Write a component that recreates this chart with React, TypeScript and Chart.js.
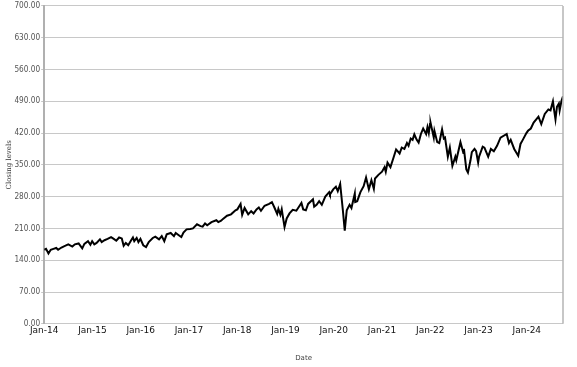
import React, { useEffect, useRef } from "react";
import { Chart, registerables } from "chart.js";

Chart.register(...registerables);

const dates: string[] = [
  "2014-01-02","2014-01-15","2014-02-03","2014-02-20","2014-03-10","2014-04-01","2014-04-15","2014-05-10","2014-06-10","2014-07-01","2014-07-31","2014-08-20","2014-09-18","2014-10-15","2014-11-01","2014-11-28","2014-12-16","2014-12-29",
  "2015-01-15","2015-02-02","2015-02-27","2015-03-10","2015-03-31","2015-04-24","2015-05-20","2015-06-10","2015-06-29","2015-07-20","2015-08-10","2015-08-24","2015-09-10","2015-09-28","2015-10-20","2015-11-03","2015-11-13","2015-12-01","2015-12-14","2015-12-29",
  "2016-01-20","2016-02-11","2016-03-01","2016-03-31","2016-04-20","2016-05-18","2016-06-08","2016-06-27","2016-07-15","2016-08-15","2016-09-09","2016-09-22","2016-10-15","2016-11-04","2016-11-20","2016-12-13",
  "2017-01-10","2017-02-01","2017-03-01","2017-03-27","2017-04-13","2017-05-01","2017-05-17","2017-06-19","2017-07-25","2017-08-10","2017-09-01","2017-09-15","2017-10-15","2017-11-15","2017-12-18",
  "2018-01-02","2018-01-26","2018-02-08","2018-02-26","2018-03-23","2018-04-15","2018-05-03","2018-05-25","2018-06-12","2018-06-28","2018-07-25","2018-08-29","2018-09-20","2018-10-10","2018-10-29","2018-11-08","2018-11-23","2018-12-03","2018-12-24",
  "2019-01-10","2019-02-01","2019-02-25","2019-03-22","2019-04-30","2019-05-13","2019-06-03","2019-06-20","2019-07-26","2019-08-05","2019-08-23","2019-09-12","2019-10-02","2019-10-28","2019-11-27","2019-12-03","2019-12-27",
  "2020-01-17","2020-01-31","2020-02-19","2020-03-09","2020-03-23","2020-04-08","2020-04-29","2020-05-13","2020-06-08","2020-06-11","2020-06-26","2020-07-20","2020-08-14","2020-09-02","2020-09-23","2020-10-12","2020-10-30","2020-11-09","2020-12-04","2020-12-31",
  "2021-01-20","2021-01-29","2021-02-12","2021-03-04","2021-03-26","2021-04-16","2021-05-12","2021-05-28","2021-06-18","2021-07-07","2021-07-19","2021-08-05","2021-08-19","2021-09-02","2021-09-20","2021-10-04","2021-10-21","2021-11-08","2021-11-30","2021-12-10","2021-12-20","2021-12-29",
  "2022-01-03","2022-01-27","2022-02-02","2022-02-23","2022-03-08","2022-03-29","2022-04-12","2022-04-21","2022-05-12","2022-05-27","2022-06-16","2022-07-08","2022-07-15","2022-08-16","2022-09-08","2022-09-12","2022-09-30","2022-10-12","2022-11-01","2022-11-11","2022-12-01","2022-12-13","2022-12-28",
  "2023-01-05","2023-02-02","2023-02-15","2023-03-13","2023-04-03","2023-04-25","2023-05-19","2023-06-15","2023-07-31","2023-08-18","2023-09-01","2023-09-27","2023-10-27","2023-11-14","2023-12-01","2023-12-28",
  "2024-01-10","2024-01-31","2024-02-22","2024-03-28","2024-04-19","2024-05-15","2024-06-12","2024-06-28","2024-07-16","2024-07-25","2024-08-05","2024-08-16","2024-08-30","2024-09-06","2024-09-19","2024-10-01"
];

const closes: number[] = [
  163,165,155,163,165,167,163,168,172,175,170,175,177,166,176,182,174,182,
  175,178,186,180,184,187,191,187,183,190,188,172,178,173,184,190,182,189,180,187,
  173,169,180,189,192,186,193,182,197,200,193,200,195,191,201,208,
  209,210,219,215,214,221,217,224,228,224,227,231,238,241,250,
  252,264,240,255,241,248,243,252,256,249,260,264,268,255,242,253,240,252,213,
  232,243,251,249,266,252,250,264,274,258,262,270,262,280,290,285,296,
  302,292,308,250,205,250,262,255,287,268,270,290,303,322,296,316,297,320,328,335,
  345,335,355,345,365,384,375,388,385,398,392,408,405,417,405,399,418,430,418,433,420,440,
  443,410,425,400,398,428,408,410,368,388,348,368,360,400,376,385,340,333,360,378,385,380,355,
  368,390,388,368,385,380,392,410,418,398,405,385,370,396,405,420,
  425,430,443,456,440,462,472,470,490,470,450,478,485,470,490,501
];

const yTicks: number[] = [0, 70, 140, 210, 280, 350, 420, 490, 560, 630, 700];
const xTickYears: number[] = [14, 15, 16, 17, 18, 19, 20, 21, 22, 23, 24];

function toMonths(d: string): number {
  const [y, m, day] = d.split("-").map(Number);
  return (y - 2014) * 12 + (m - 1) + (day - 1) / 30;
}

const rightBorder = {
  id: "rightBorder",
  afterDraw(chart: any) {
    const { ctx, chartArea } = chart;
    ctx.save();
    ctx.strokeStyle = "#b5b5b5";
    ctx.lineWidth = 1.5;
    ctx.beginPath();
    ctx.moveTo(chartArea.right, chartArea.top);
    ctx.lineTo(chartArea.right, chartArea.bottom);
    ctx.stroke();
    ctx.restore();
  },
};

export default function App() {
  const ref = useRef<HTMLCanvasElement | null>(null);
  useEffect(() => {
    document.body.style.margin = "0";
    const points = dates.map((d, i) => ({ x: toMonths(d), y: closes[i] }));
    const lastX = points[points.length - 1].x;
    const chart = new Chart(ref.current!, {
      type: "line",
      data: {
        datasets: [
          {
            data: points,
            borderColor: "#000",
            borderWidth: 2,
            pointRadius: 0,
            tension: 0,
            fill: false,
          },
        ],
      },
      options: {
        animation: false,
        responsive: false,
        maintainAspectRatio: false,
        layout: { padding: { top: 0, right: 14, left: 5, bottom: 2 } },
        plugins: { legend: { display: false }, tooltip: { enabled: false } },
        scales: {
          x: {
            type: "linear",
            min: 0,
            max: lastX,
            grid: { display: false, drawTicks: false, tickLength: 0 },
            border: { display: false },
            afterBuildTicks: (axis: any) => {
              axis.ticks = xTickYears.map((y) => ({ value: (y - 14) * 12 }));
            },
            ticks: {
              autoSkip: false,
              maxRotation: 0,
              padding: 1,
              color: "#111",
              font: { family: "DejaVu Sans", size: 9 },
              callback: (v: any) => "Jan-" + String(14 + Math.round(Number(v) / 12)),
            },
            title: {
              display: true,
              text: "Date",
              color: "#444",
              font: { family: "DejaVu Sans", size: 7 },
              padding: { top: 17, bottom: 3 },
            },
          },
          y: {
            type: "linear",
            min: 0,
            max: 700,
            afterBuildTicks: (axis: any) => {
              axis.ticks = yTicks.map((v) => ({ value: v }));
            },
            grid: { color: "#c8c8c8", lineWidth: 1, tickLength: 3 },
            border: { display: true, color: "#b0b0b0", width: 2 },
            ticks: {
              padding: 1,
              color: "#555",
              font: { family: "'DejaVu Sans Condensed', 'DejaVu Sans'", size: 8.2 },
              callback: (v: any) => Number(v).toFixed(2),
            },
            title: {
              display: true,
              text: "Closing levels",
              color: "#333",
              font: { family: "DejaVu Serif", size: 7 },
              padding: { top: 0, bottom: 0 },
            },
          },
        },
      },
      plugins: [rightBorder],
    });
    return () => chart.destroy();
  }, []);
  return (
    <div style={{ width: 577, height: 367 }}>
      <canvas ref={ref} width={577} height={367} style={{ display: "block" }} />
    </div>
  );
}
